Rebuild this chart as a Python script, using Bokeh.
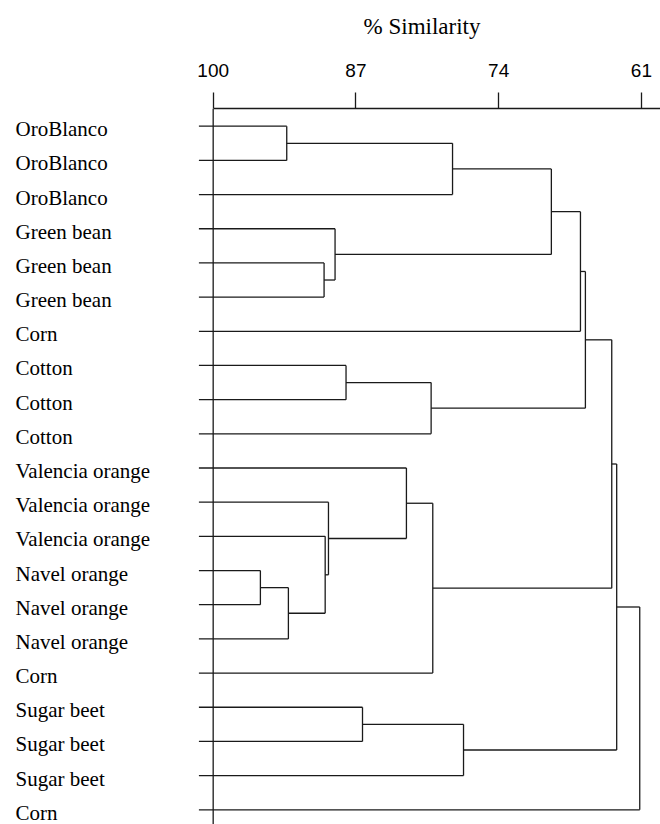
from bokeh.plotting import figure
from bokeh.layouts import column
from bokeh.models import Range1d, FixedTicker, Span, ColumnDataSource
from bokeh.core.properties import value
from bokeh.embed import file_html
from bokeh.resources import INLINE

# ---- data ----
labels = ["OroBlanco", "OroBlanco", "OroBlanco",
          "Green bean", "Green bean", "Green bean",
          "Corn",
          "Cotton", "Cotton", "Cotton",
          "Valencia orange", "Valencia orange", "Valencia orange",
          "Navel orange", "Navel orange", "Navel orange",
          "Corn",
          "Sugar beet", "Sugar beet", "Sugar beet",
          "Corn"]

# linkage: child a, child b (leaves 0..20, clusters 21..), % similarity at merge
merge_a = [0, 21, 4, 3, 22, 25, 7, 27, 26, 13, 30, 12, 11, 10, 34, 29, 17, 37, 36, 39]
merge_b = [1, 2, 5, 23, 24, 6, 8, 9, 28, 14, 15, 31, 32, 33, 16, 35, 18, 19, 38, 20]
merge_sim = [93.3, 78.2, 89.9, 88.9, 69.2, 66.55, 87.9, 80.15, 66.1, 95.7,
             93.15, 89.8, 89.5, 82.4, 80.0, 63.7, 86.4, 77.2, 63.25, 61.15]

tick_values = [100, 87, 74, 61]
axis_title = "% Similarity"

# ---- layout / style ----
W, H = 660, 824
TITLE_H = 50
X_LEFT, X_RIGHT = 119.37, 59.26
Y_BOTTOM, Y_TOP = 20.43, -0.518
LEAF_START = 101.3
TITLE_X = 80.98          # horizontal centre of the axis title, in % similarity
TITLE_LIFT = 24.5        # px the title baseline sits above the strip's bottom
LINE_COLOR = "#1a1a1a"
LINE_W = 1.3

n = len(labels)
node_x = [LEAF_START] * n
node_y = [float(i) for i in range(n)]
x0, y0, x1, y1 = [], [], [], []
for a, b, s in zip(merge_a, merge_b, merge_sim):
    for c in (a, b):
        x0.append(node_x[c]); y0.append(node_y[c]); x1.append(s); y1.append(node_y[c])
    x0.append(s); y0.append(node_y[a]); x1.append(s); y1.append(node_y[b])
    node_x.append(s)
    node_y.append((node_y[a] + node_y[b]) / 2)

seg_src = ColumnDataSource(dict(x0=x0, y0=y0, x1=x1, y1=y1))
lab_src = ColumnDataSource(dict(x=[X_LEFT] * n, y=list(range(n)), text=labels))

x_range = Range1d(X_LEFT, X_RIGHT)

# ---- title strip ----
t = figure(width=W, height=TITLE_H, x_range=x_range, y_range=Range1d(0, 1),
           x_axis_type=None, y_axis_type=None,
           output_backend="svg", toolbar_location=None,
           min_border_top=0, min_border_left=0, min_border_right=0, min_border_bottom=0)
t.title.visible = False
t.title.standoff = 0
t.title.text_font_size = "1px"
t.grid.visible = False
t.outline_line_color = None
t.text(x=[TITLE_X], y=[0], text=[axis_title], y_offset=-TITLE_LIFT,
       text_font=value("Liberation Serif"), text_font_size="23px",
       text_align="center", text_baseline="alphabetic", text_color="black")

# ---- dendrogram ----
p = figure(width=W, height=H - TITLE_H,
           x_range=x_range, y_range=Range1d(Y_BOTTOM, Y_TOP),
           x_axis_location="above", y_axis_type=None,
           output_backend="svg", toolbar_location=None,
           min_border_top=108 - TITLE_H, min_border_left=0, min_border_right=0,
           min_border_bottom=0)
p.grid.visible = False
p.outline_line_color = None
p.background_fill_color = "white"
p.border_fill_color = "white"

ax = p.xaxis[0]
ax.ticker = FixedTicker(ticks=tick_values, minor_ticks=[])
ax.bounds = (X_RIGHT, 100)
ax.axis_line_color = LINE_COLOR
ax.axis_line_width = LINE_W
ax.major_tick_line_color = LINE_COLOR
ax.major_tick_line_width = LINE_W
ax.major_tick_in = 0
ax.major_tick_out = 16
ax.minor_tick_out = 0
ax.minor_tick_in = 0
ax.major_label_standoff = 16
ax.major_label_text_font = "Liberation Sans"
ax.major_label_text_font_size = "19px"
ax.major_label_text_color = "black"

p.add_layout(Span(location=100, dimension="height", line_color=LINE_COLOR, line_width=LINE_W))
p.segment(x0="x0", y0="y0", x1="x1", y1="y1", source=seg_src,
          line_color=LINE_COLOR, line_width=LINE_W)
p.text(x="x", y="y", text="text", source=lab_src,
       text_font=value("Liberation Serif"), text_font_size="21px",
       text_align="left", text_baseline="middle", x_offset=15, y_offset=3,
       text_color="black")

layout = column(t, p, spacing=0)
open("out.html", "w").write(file_html(layout, INLINE))
